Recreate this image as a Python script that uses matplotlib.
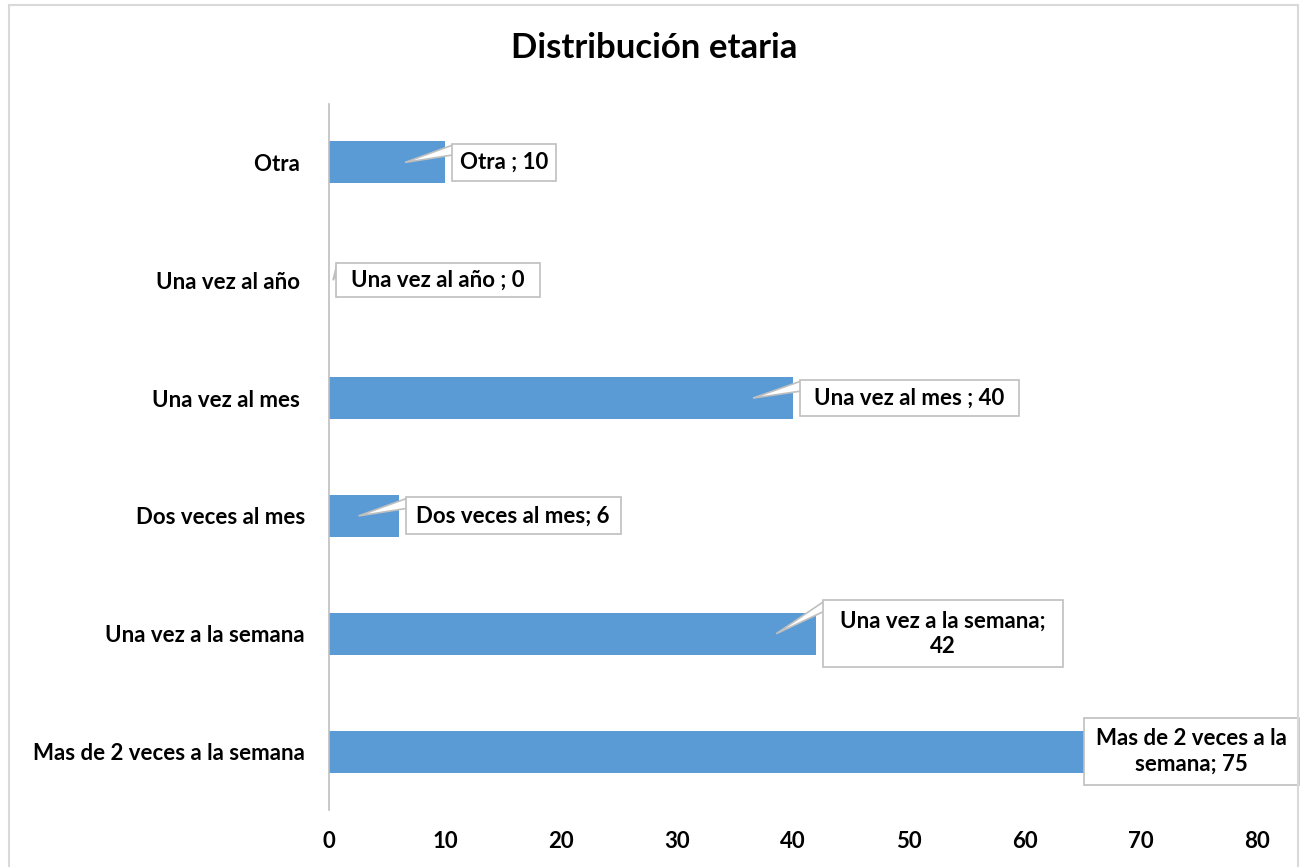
import matplotlib
matplotlib.use("Agg")
import matplotlib.pyplot as plt
from matplotlib.patches import Rectangle, Polygon

# ---- data ----
categories = ["Mas de 2 veces a la semana", "Una vez a la semana", "Dos veces al mes",
              "Una vez al mes ", "Una vez al año ", "Otra "]
values = [75, 42, 6, 40, 0, 10]
callout_labels = ["Mas de 2 veces a la\nsemana; 75", "Una vez a la semana;\n42",
                  "Dos veces al mes; 6", "Una vez al mes ; 40",
                  "Una vez al año ; 0", "Otra ; 10"]
xticks = [0, 10, 20, 30, 40, 50, 60, 70, 80]
title = "Distribución etaria"

# ---- layout (pixels) ----
box_dx = [-115, 7, 7, 7, 7, 7]
box_w = [215, 240, 215, 219, 204, 104]
box_h = [67, 67, 37, 36, 34, 37]

FONT = ["Lato", "DejaVu Sans"]
plt.rcParams['font.family'] = FONT
FS = 16
GRAY = "#BFBFBF"

W, H = 1302, 867
fig = plt.figure(figsize=(W / 100, H / 100), dpi=100)
ax_l, ax_r, ax_t, ax_b = 329, 1257, 103.5, 810.5
ax = fig.add_axes([ax_l / W, 1 - ax_b / H, (ax_r - ax_l) / W, (ax_b - ax_t) / H])

xmax = 80
sx = xmax / (ax_r - ax_l)          # data units per px (x)
sy = 6 / (ax_b - ax_t)             # data units per px (y)

ax.barh(range(len(values)), values, height=42 * sy, color="#5B9BD5", zorder=2)
ax.set_xlim(0, xmax)
ax.set_ylim(-0.5, len(values) - 0.5)
for s in ["top", "right", "bottom"]:
    ax.spines[s].set_visible(False)
ax.spines["left"].set_color(GRAY)
ax.spines["left"].set_linewidth(1.2)
ax.set_yticks(range(len(categories)), categories)
ax.set_xticks(xticks)
for lab in ax.get_yticklabels() + ax.get_xticklabels():
    lab.set_fontweight("bold")
    lab.set_fontsize(FS)
    lab.set_color("black")
ax.tick_params(axis="y", length=0, pad=24 * 0.72)
ax.tick_params(axis="x", length=0, pad=20 * 0.72)

for i, (v, lab) in enumerate(zip(values, callout_labels)):
    left = v + box_dx[i] * sx
    width = box_w[i] * sx
    hh = box_h[i] * sy
    top = i + hh / 2
    tip_x = max(v - 40 * sx, 4 * sx)
    if tip_x < left:
        wedge = Polygon([(tip_x, i), (left + 1 * sx, top - 1 * sy), (left + 1 * sx, top - 11 * sy)],
                        closed=True, facecolor="white", edgecolor=GRAY, lw=1.2,
                        zorder=3, clip_on=False)
        ax.add_patch(wedge)
    ax.add_patch(Rectangle((left, i - hh / 2), width, hh, facecolor="white",
                           edgecolor=GRAY, lw=1.2, zorder=4, clip_on=False))
    ax.text(left + width / 2, i, lab, ha="center", va="center", fontsize=FS,
            fontweight="bold", color="black", zorder=5, clip_on=False,
            linespacing=1.25)

fig.text(654.5 / W, 1 - 48 / H, title, ha="center", va="center",
         fontsize=25, fontweight="bold", color="black")

fig.patches.append(Rectangle((9 / W, -0.05), (1298 - 9) / W, 1 - 5 / H + 0.05,
                             transform=fig.transFigure, fill=False,
                             edgecolor="#D9D9D9", lw=1.5))

fig.savefig("out.png", dpi=100)
